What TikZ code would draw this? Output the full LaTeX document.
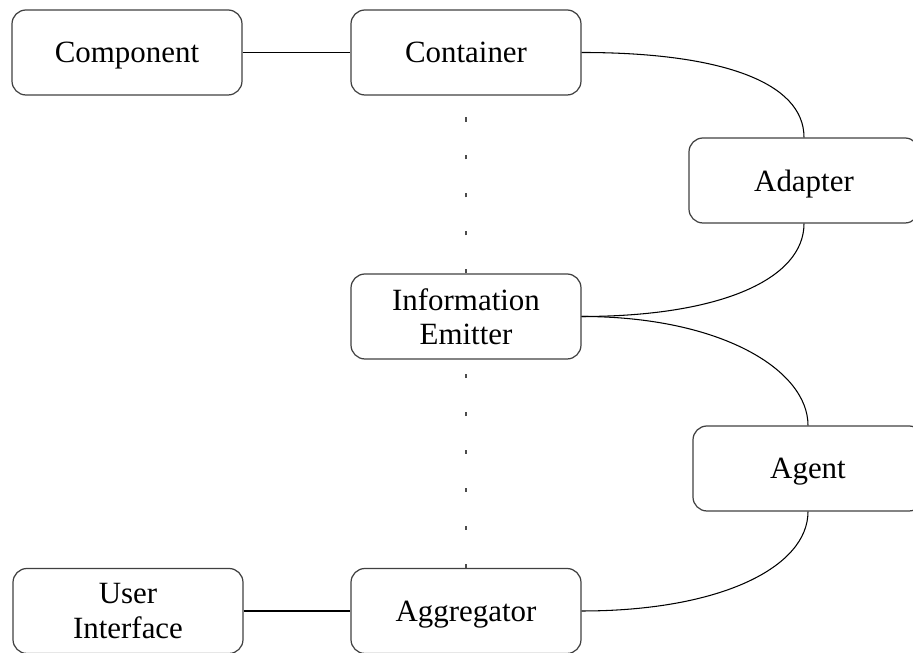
\documentclass[tikz,border=0pt]{standalone}
\usepackage{fontspec}
\setmainfont{Liberation Serif}
\usepackage{tikz}

\begin{document}
\begin{tikzpicture}[
	part/.style = {shape=rectangle, rounded corners=0.28cm, draw=black!75,
	line width=0.7pt, minimum width=4.6cm, minimum height=1.7cm,
	text depth=0pt, align=center, font=\fontsize{17.6}{19.6}\selectfont},
	link/.style = {-, line width=0.6pt, black},
	flow/.style = {-, line width=0.8pt, black!70, dash pattern=on 2.4pt off 19.2pt},
]
	\useasboundingbox (0,0) rectangle (18.26,13.06);
	\clip (0,0) rectangle (18.26,13.06);

	\node[part] at (2.54,12.01) (comp) {Component};
	\node[part] at (9.32,12.01) (cont) {Container};
	\node[part] at (16.08,9.45) (adap) {Adapter};
	\node[part] at (9.32,6.73) (info) {Information\\Emitter};
	\node[part] at (16.16,3.69) (agent) {Agent};
	\node[part] at (2.56,0.84) (ui) {User\\Interface};
	\node[part] at (9.32,0.84) (aggr) {Aggregator};

	\draw[link] (comp) -- (cont);
	\draw[link] (ui) -- (aggr);

	\draw[link] (cont.east) .. controls +(2.8,0) and +(0,1.1) .. (adap.north);
	\draw[link] (adap.south) .. controls +(0,-1.1) and +(2.8,0) .. (info.east);
	\draw[link] (info.east) .. controls +(2.8,0) and +(0,1.1) .. (agent.north);
	\draw[link] (agent.south) .. controls +(0,-1.1) and +(2.8,0) .. (aggr.east);

	\draw[flow] (info.north) -- (cont.south);
	\draw[flow] (aggr.north) -- (info.south);
\end{tikzpicture}
\end{document}
